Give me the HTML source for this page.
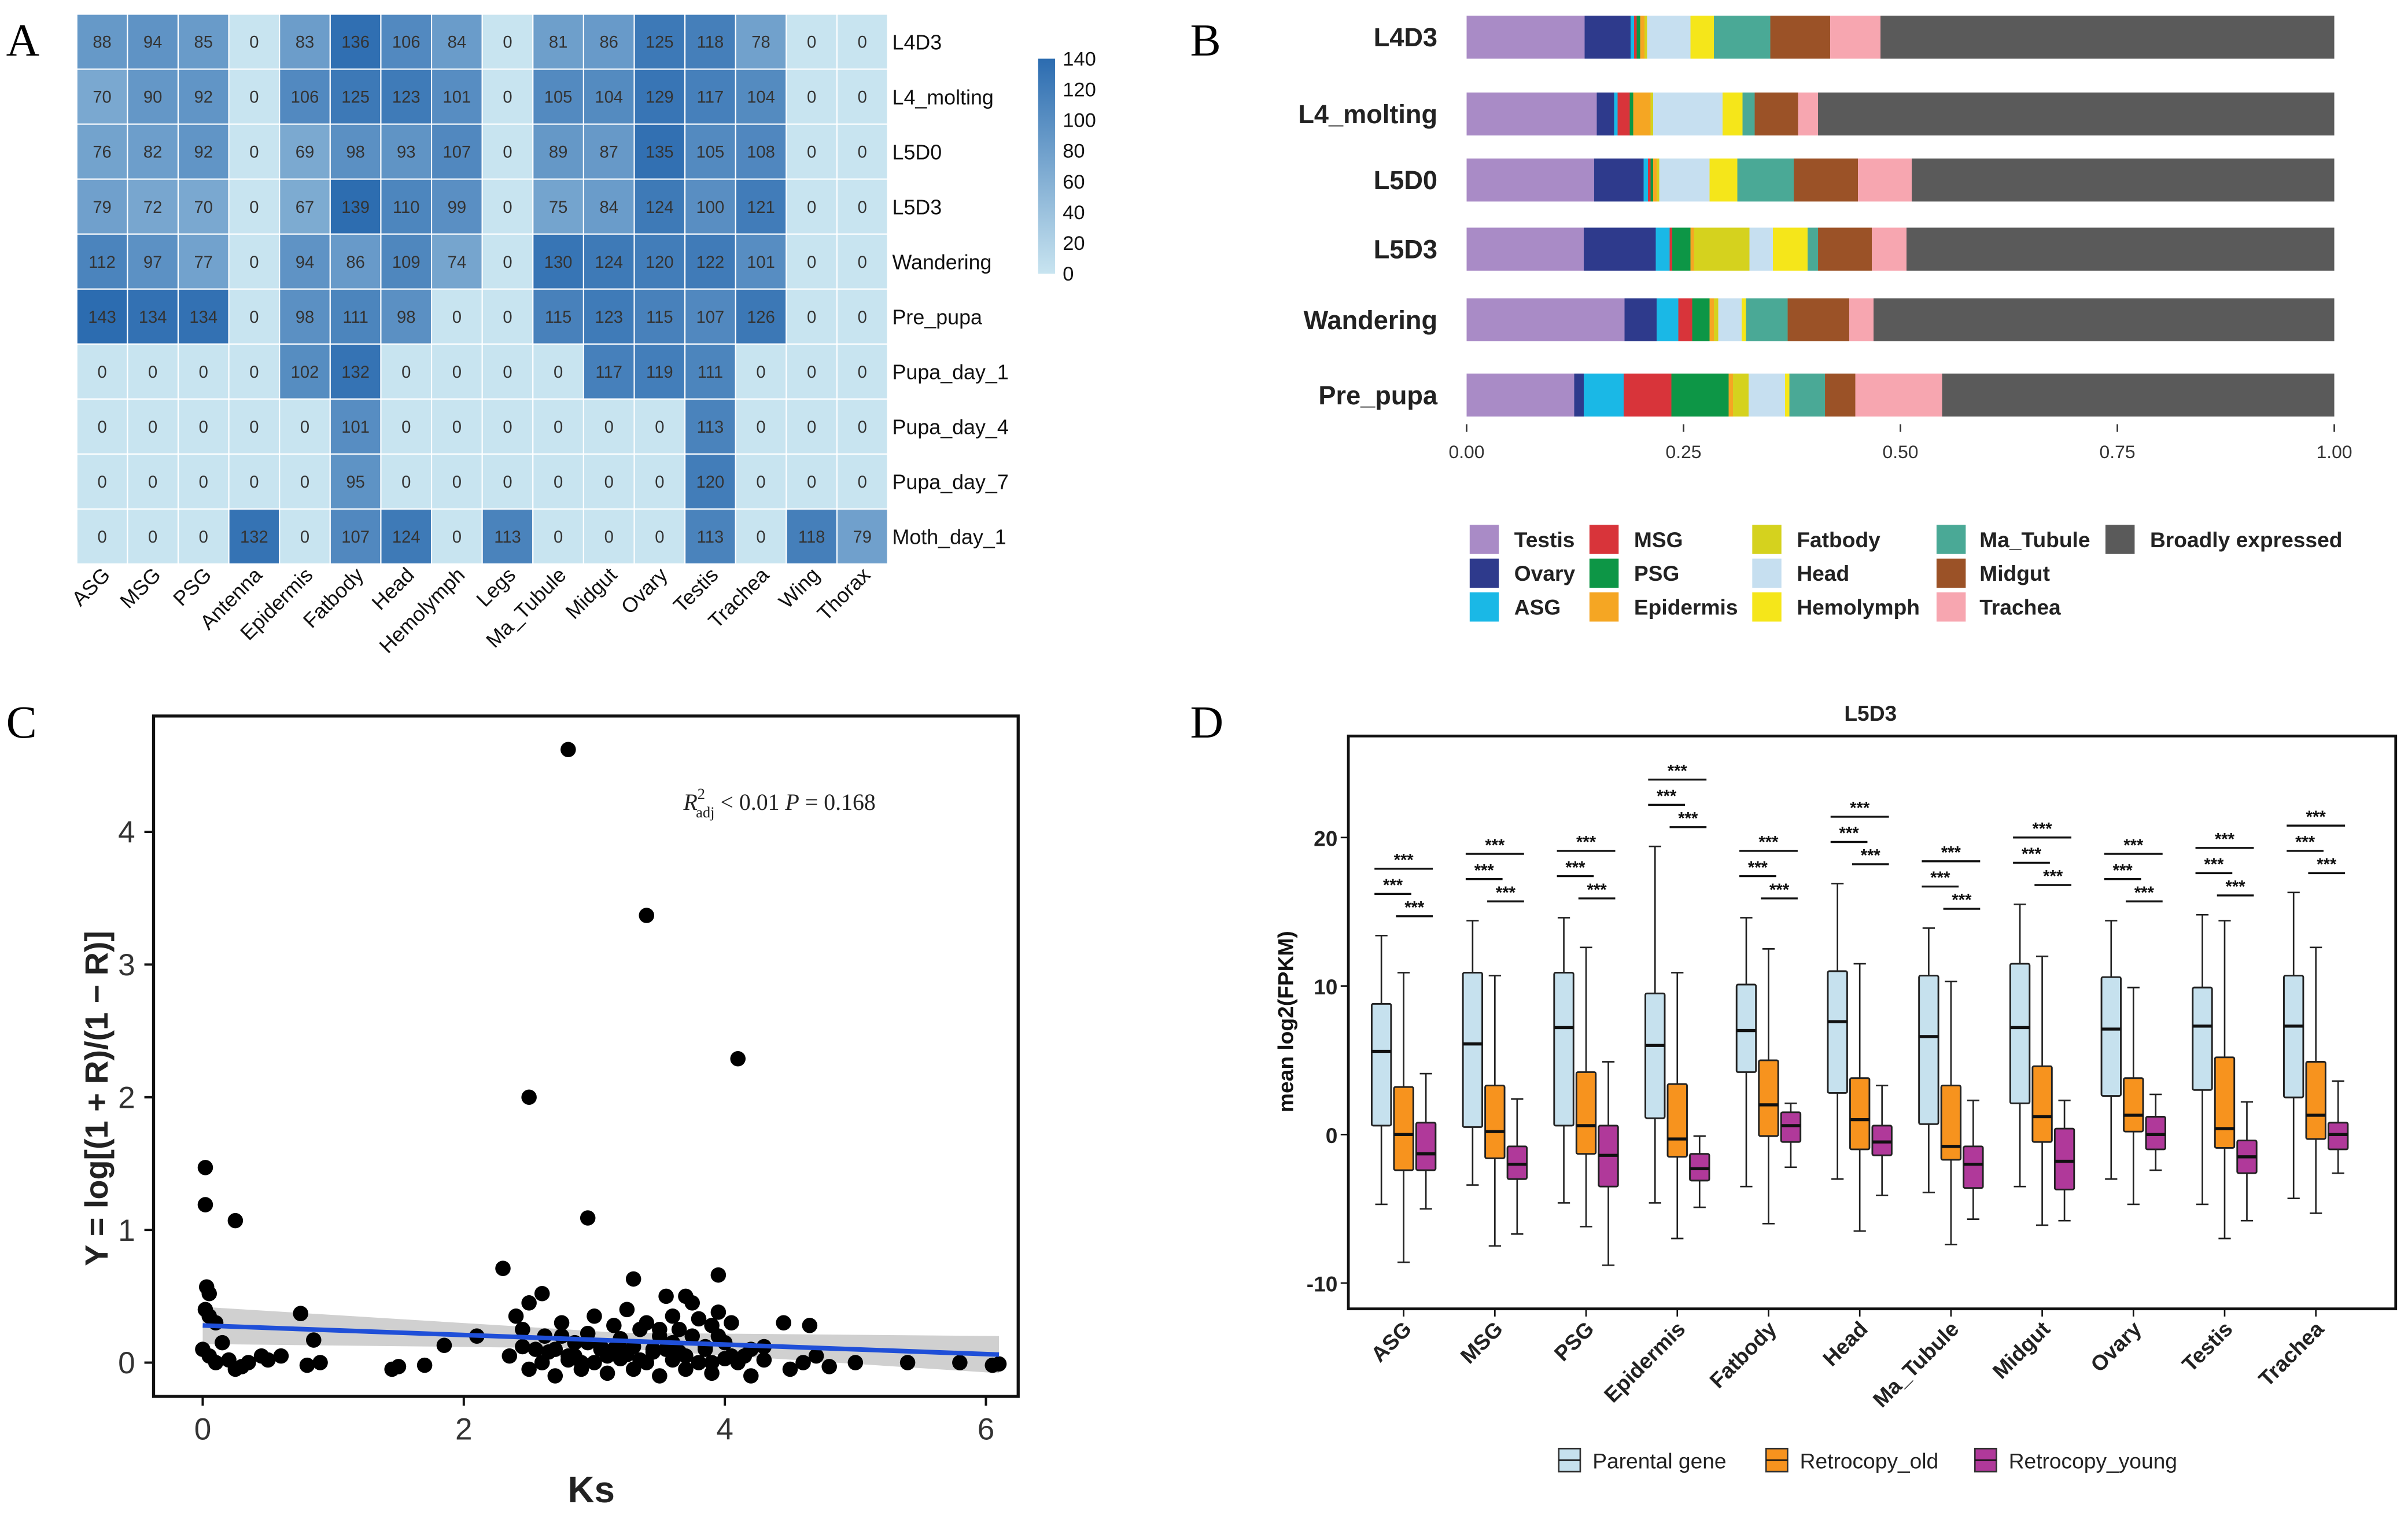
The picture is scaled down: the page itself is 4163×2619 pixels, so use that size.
<!DOCTYPE html>
<html><head><meta charset="utf-8"><style>
html,body{margin:0;padding:0;background:#fff;}
svg{display:block;font-family:"Liberation Sans",sans-serif;}
</style></head><body>
<svg id="fig" width="4163" height="2619" viewBox="0 0 1568 986" xmlns="http://www.w3.org/2000/svg">
<rect x="0" y="0" width="1568" height="986" fill="#fff"/>
<g font-family="Liberation Serif,serif" font-size="30">
<text x="4" y="36">A</text>
<text x="775" y="36">B</text>
<text x="4" y="480">C</text>
<text x="775" y="480">D</text>
</g>
<g id="pa"></g>
<g id="pb"></g>
<g id="pc"></g>
<g id="pd"></g>
</svg>
<script>
// ---------- Panel A data ----------
const hmCols = ["ASG","MSG","PSG","Antenna","Epidermis","Fatbody","Head","Hemolymph","Legs","Ma_Tubule","Midgut","Ovary","Testis","Trachea","Wing","Thorax"];
const hmRows = ["L4D3","L4_molting","L5D0","L5D3","Wandering","Pre_pupa","Pupa_day_1","Pupa_day_4","Pupa_day_7","Moth_day_1"];
const hmValues = [
[88,94,85,0,83,136,106,84,0,81,86,125,118,78,0,0],
[70,90,92,0,106,125,123,101,0,105,104,129,117,104,0,0],
[76,82,92,0,69,98,93,107,0,89,87,135,105,108,0,0],
[79,72,70,0,67,139,110,99,0,75,84,124,100,121,0,0],
[112,97,77,0,94,86,109,74,0,130,124,120,122,101,0,0],
[143,134,134,0,98,111,98,0,0,115,123,115,107,126,0,0],
[0,0,0,0,102,132,0,0,0,0,117,119,111,0,0,0],
[0,0,0,0,0,101,0,0,0,0,0,0,113,0,0,0],
[0,0,0,0,0,95,0,0,0,0,0,0,120,0,0,0],
[0,0,0,132,0,107,124,0,113,0,0,0,113,0,118,79]];
const hmTicks = [0,20,40,60,80,100,120,140];
// ---------- Panel B data ----------
const sbStages = ["L4D3","L4_molting","L5D0","L5D3","Wandering","Pre_pupa"];
const sbTissues = ["Testis","Ovary","ASG","MSG","PSG","Epidermis","Fatbody","Head","Hemolymph","Ma_Tubule","Midgut","Trachea","Broadly expressed"];
const sbTestis = [0.136,0.150,0.147,0.135,0.182,0.124];
const sbOvary = [0.053,0.020,0.057,0.083,0.037,0.011];
const sbASG = [0.004,0.004,0.005,0.016,0.025,0.046];
const sbMSG = [0.003,0.014,0.003,0.003,0.016,0.055];
const sbPSG = [0.004,0.004,0.003,0.021,0.020,0.066];
const sbEpidermis = [0.005,0.020,0.004,0.004,0.005,0.005];
const sbFatbody = [0.003,0.003,0.003,0.064,0.005,0.018];
const sbHead = [0.050,0.080,0.058,0.027,0.027,0.042];
const sbHemolymph = [0.027,0.023,0.032,0.040,0.005,0.005];
const sbMaTubule = [0.065,0.014,0.065,0.012,0.048,0.041];
const sbMidgut = [0.069,0.050,0.074,0.062,0.071,0.035];
const sbTrachea = [0.058,0.023,0.062,0.040,0.028,0.100];
const sbTicks = [0,0.25,0.5,0.75,1];
// ---------- Panel C data ----------
const scKs = [0.02,0.02,0.25,0.03,0.05,0.02,0.05,0.1,0.0,0.05,0.1,0.2,0.3,0.35,0.45,0.5,0.25,0.15,0.6,0.75,0.85,0.8,0.9,1.45,1.5,1.7,1.85,2.1,2.3,2.5,2.8,3.4,4.1,2.95,3.3,3.95,3.7,2.6,5.4,6.1,6.05,5.8,4.65,4.3,4.45,4.5,4.6,4.7,4.8,5.0,
2.35,2.4,2.45,2.5,2.55,2.6,2.62,2.7,2.75,2.8,2.85,2.9,2.95,3.0,3.05,3.1,3.15,3.2,3.25,3.3,3.35,3.4,3.45,3.5,3.55,3.6,3.65,3.7,3.75,3.8,3.85,3.9,3.95,4.0,4.05,4.15,4.2,
2.5,2.6,2.7,2.8,2.9,3.0,3.1,3.2,3.3,3.4,3.5,3.6,3.7,3.8,3.9,4.0,4.1,4.2,4.3,
2.45,2.65,2.85,3.05,3.25,3.45,3.65,3.85,4.05,2.75,3.15,3.55,3.95,3.35,3.75,2.95,3.5,3.2,3.6,3.9];
const scY = [1.47,1.19,1.07,0.57,0.52,0.4,0.35,0.3,0.1,0.05,0.0,0.02,-0.03,0.0,0.05,0.02,-0.05,0.15,0.05,0.37,0.17,-0.02,0.0,-0.05,-0.03,-0.02,0.13,0.2,0.71,2.0,4.62,3.37,2.29,1.09,0.63,0.66,0.5,0.52,0.0,-0.01,-0.02,0.0,0.28,0.12,0.3,-0.05,0.0,0.05,-0.03,0.0,
0.05,0.35,0.25,0.45,0.1,0.0,0.2,0.1,0.3,0.05,0.15,0.0,0.22,0.35,0.1,0.05,0.28,0.18,0.4,0.12,0.02,0.3,0.08,0.2,0.5,0.15,0.25,0.05,0.45,0.33,0.1,0.0,0.38,0.15,0.3,0.05,0.1,
-0.05,0.0,-0.1,0.02,-0.05,0.0,-0.08,0.03,-0.05,0.0,-0.1,0.02,-0.05,0.0,-0.08,0.03,0.0,-0.1,0.02,
0.12,0.08,0.05,0.12,0.06,0.1,0.08,0.12,0.05,0.2,0.1,0.1,0.2,0.25,0.2,0.15,0.25,0.1,0.35,0.28];
const scXTicks = [0,2,4,6];
const scYTicks = [0,1,2,3,4];
// ---------- Panel D data ----------
const bxGroups = ["ASG","MSG","PSG","Epidermis","Fatbody","Head","Ma_Tubule","Midgut","Ovary","Testis","Trachea"];
// [wlo,q1,med,q3,whi]
const bxParental = [[-4.7,0.6,5.6,8.8,13.4],[-3.4,0.5,6.1,10.9,14.4],[-4.6,0.6,7.2,10.9,14.6],[-4.6,1.1,6.0,9.5,19.4],[-3.5,4.2,7.0,10.1,14.6],[-3.0,2.8,7.6,11.0,16.9],[-3.9,0.7,6.6,10.7,13.9],[-3.5,2.1,7.2,11.5,15.5],[-3.0,2.6,7.1,10.6,14.4],[-4.7,3.0,7.3,9.9,14.8],[-4.3,2.5,7.3,10.7,16.3]];
const bxOld = [[-8.6,-2.4,0,3.2,10.9],[-7.5,-1.6,0.2,3.3,10.7],[-6.2,-1.3,0.6,4.2,12.6],[-7.0,-1.5,-0.3,3.4,10.9],[-6.0,-0.1,2.0,5.0,12.5],[-6.5,-1.0,1.0,3.8,11.5],[-7.4,-1.7,-0.8,3.3,10.3],[-6.1,-0.5,1.2,4.6,12.0],[-4.7,0.2,1.3,3.8,9.9],[-7.0,-0.9,0.4,5.2,14.4],[-5.3,-0.3,1.3,4.9,12.6]];
const bxYoung = [[-5.0,-2.4,-1.3,0.8,4.1],[-6.7,-3.0,-2.0,-0.8,2.4],[-8.8,-3.5,-1.4,0.6,4.9],[-4.9,-3.1,-2.3,-1.3,-0.1],[-2.2,-0.5,0.6,1.5,2.1],[-4.1,-1.4,-0.5,0.6,3.3],[-5.7,-3.6,-2.0,-0.8,2.3],[-5.8,-3.7,-1.8,0.4,2.3],[-2.4,-1.0,0,1.2,2.7],[-5.8,-2.6,-1.5,-0.4,2.2],[-2.6,-1.0,0,0.8,3.6]];
const bxYTicks = [-10,0,10,20];

const NS="http://www.w3.org/2000/svg";
function mk(parent,tag,attrs,text){const e=document.createElementNS(NS,tag);for(const k in attrs)e.setAttribute(k,attrs[k]);if(text!==undefined)e.textContent=text;parent.appendChild(e);return e;}

// ===== Panel A =====
(function(){
const g=document.getElementById('pa');
const x0=50,y0=9,cw=33,rh=35.8;
const c0=[200,228,240],c1=[44,108,176];
function col(v){const t=Math.max(0,Math.min(1,v/140));return `rgb(${c0.map((c,i)=>Math.round(c+(c1[i]-c)*t)).join(',')})`;}
hmRows.forEach((r,ri)=>{
 hmCols.forEach((c,ci)=>{
  const v=hmValues[ri][ci];
  const cell=mk(g,'rect',{x:x0+ci*cw,y:y0+ri*rh,width:cw,height:rh,fill:col(v),stroke:'#fff','stroke-width':0.8});
  
  
  const t=mk(g,'text',{x:x0+ci*cw+cw/2,y:y0+ri*rh+rh/2+4,'text-anchor':'middle','font-size':11,fill:'#333'},v);
  
  
 });
 const rl=mk(g,'text',{x:x0+16*cw+3,y:y0+ri*rh+rh/2+5,'font-size':13.5,fill:'#111'},r);
 
 
});
hmCols.forEach((c,ci)=>{
 const cx=x0+ci*cw+cw/2+6, cy=y0+10*rh+8;
 const t=mk(g,'text',{x:cx,y:cy,'text-anchor':'end','font-size':13.5,fill:'#111',transform:`rotate(-45 ${cx} ${cy})`},c);
 
 
});
const cbx=676,cbTop=38,cbBot=178;
const defs=mk(document.getElementById('fig'),'defs',{});
const lg=mk(defs,'linearGradient',{id:'cbg',x1:0,y1:1,x2:0,y2:0});
mk(lg,'stop',{offset:'0',"stop-color":col(0)});mk(lg,'stop',{offset:'1',"stop-color":col(140)});
const cb=mk(g,'rect',{x:cbx,y:cbTop,width:11,height:cbBot-cbTop,fill:'url(#cbg)'});


hmTicks.forEach(v=>{
 const y=cbBot-(v/140)*(cbBot-cbTop);
 const t=mk(g,'text',{x:692,y:y+4.5,'font-size':13,fill:'#111'},v);
 
 
});
})();

// ===== Panel B =====
(function(){
const g=document.getElementById('pb');
const colors=["#a98bc6","#2e3a8c","#1ab8e6","#d8343a","#0d9646","#f5a623","#d5d21e","#c6dff0","#f5e61a","#4aa996","#9b5227","#f7a6b0","#5a5a5a"];
const series=[sbTestis,sbOvary,sbASG,sbMSG,sbPSG,sbEpidermis,sbFatbody,sbHead,sbHemolymph,sbMaTubule,sbMidgut,sbTrachea];
const x0=955,x1=1520; const X=v=>x0+v*(x1-x0);
const yc=[24,74,117,162,208,257];
sbStages.forEach((s,i)=>{
 let acc=0;const h=28,y=yc[i]-h/2;
 series.forEach((ser,k)=>{
  const w=ser[i];
  const r=mk(g,'rect',{x:X(acc),y:y,width:X(acc+w)-X(acc),height:h,fill:colors[k]});
  
  
  acc+=w;
 });
 const r=mk(g,'rect',{x:X(acc),y:y,width:X(1)-X(acc),height:h,fill:colors[12]});
 
 
 const t=mk(g,'text',{x:936,y:yc[i]+6,'text-anchor':'end','font-size':17,'font-weight':'bold',fill:'#222'},s);
 
 
});
sbTicks.forEach(v=>{
 mk(g,'line',{x1:X(v),x2:X(v),y1:276,y2:281,stroke:'#333','stroke-width':1});
 const t=mk(g,'text',{x:X(v),y:298,'text-anchor':'middle','font-size':12,fill:'#333'},v.toFixed(2));
 
 
});
const cols=[[957,986],[1035,1064],[1141,1170],[1261,1289],[1371,1400]];
const rowsY=[351,373,395];
sbTissues.forEach((tn,i)=>{
 const c=Math.floor(i/3), r=i%3;
 const [sx,tx]=cols[c];
 const sw=mk(g,'rect',{x:sx,y:rowsY[r]-9.5,width:19,height:19,fill:colors[i]});
 
 
 const t=mk(g,'text',{x:tx,y:rowsY[r]+5,'font-size':14,'font-weight':'bold',fill:'#222'},tn);
 
 
});
})();

// ===== Panel C =====
(function(){
const g=document.getElementById('pc');
const X=v=>132+v*85, Y=v=>887-v*86.4;
const fr=mk(g,'rect',{x:100,y:466,width:563,height:443,fill:'none',stroke:'#111','stroke-width':2});


const a=0.28,b=-0.036;
const band=mk(g,'polygon',{points:`${X(0)},${Y(a+0.14)} ${X(3.2)},${Y(a+b*3.2+0.06)} ${X(6.1)},${Y(a+b*6.1+0.14)} ${X(6.1)},${Y(a+b*6.1-0.14)} ${X(3.2)},${Y(a+b*3.2-0.06)} ${X(0)},${Y(a-0.14)}`,fill:'#c8c8c8',opacity:0.85});


scKs.forEach((k,i)=>{
 const c=mk(g,'circle',{cx:X(k),cy:Y(scY[i]),r:5,fill:'#000'});
 
 
});
const ln=mk(g,'line',{x1:X(0),y1:Y(a),x2:X(6.1),y2:Y(a+b*6.1),stroke:'#1f4fd8','stroke-width':3});


scXTicks.forEach(v=>{
 mk(g,'line',{x1:X(v),x2:X(v),y1:909,y2:915,stroke:'#111','stroke-width':1.5});
 const t=mk(g,'text',{x:X(v),y:937,'text-anchor':'middle','font-size':20,fill:'#333'},v);
 
 
});
scYTicks.forEach(v=>{
 mk(g,'line',{x1:94,x2:100,y1:Y(v),y2:Y(v),stroke:'#111','stroke-width':1.5});
 const t=mk(g,'text',{x:88,y:Y(v)+7,'text-anchor':'end','font-size':20,fill:'#333'},v);
 
 
});
const xt=mk(g,'text',{x:385,y:978,'text-anchor':'middle','font-size':24,'font-weight':'bold',fill:'#222'},'Ks');


const yt=mk(g,'text',{x:0,y:0,'text-anchor':'middle','font-size':21,'font-weight':'bold',fill:'#222',transform:'translate(70 715) rotate(-90)'},'Y = log[(1 + R)/(1 − R)]');


const an=mk(g,'text',{x:445,y:527,'font-size':15,'font-family':'Liberation Serif,serif',fill:'#222'});


an.innerHTML='<tspan font-style="italic">R</tspan><tspan font-size="10" dy="-7">2</tspan><tspan font-size="10" dx="-6" dy="12">adj</tspan><tspan dy="-5"> &lt; 0.01  </tspan><tspan font-style="italic">P</tspan><tspan> = 0.168</tspan>';
})();

// ===== Panel D =====
(function(){
const g=document.getElementById('pd');
const Y=v=>738.5-v*9.67; const gx=i=>914+i*59.4;
const fr=mk(g,'rect',{x:878,y:479,width:682,height:373,fill:'none',stroke:'#111','stroke-width':1.8});


const tt=mk(g,'text',{x:1218,y:469,'text-anchor':'middle','font-size':14,'font-weight':'bold',fill:'#222'},'L5D3');


bxYTicks.forEach(v=>{
 mk(g,'line',{x1:873,x2:878,y1:Y(v),y2:Y(v),stroke:'#111'});
 const t=mk(g,'text',{x:871,y:Y(v)+5.5,'text-anchor':'end','font-size':14,'font-weight':'bold',fill:'#222'},v);
 
 
});
const yt=mk(g,'text',{x:0,y:0,'text-anchor':'middle','font-size':14,'font-weight':'bold',fill:'#111',transform:'translate(842 665) rotate(-90)'},'mean log2(FPKM)');


const fills=['#c6e1ee','#f7931e','#b0399a'];
const sets=[bxParental,bxOld,bxYoung];
bxGroups.forEach((gn,i)=>{
 const cx=gx(i);
 sets.forEach((s,k)=>{
  const [lo,q1,md,q3,hi]=s[i]; const bx=cx+(k-1)*14.5;
  mk(g,'line',{x1:bx,x2:bx,y1:Y(hi),y2:Y(lo),stroke:'#222','stroke-width':1});
  mk(g,'line',{x1:bx-4,x2:bx+4,y1:Y(hi),y2:Y(hi),stroke:'#222'});
  mk(g,'line',{x1:bx-4,x2:bx+4,y1:Y(lo),y2:Y(lo),stroke:'#222'});
  const r=mk(g,'rect',{x:bx-6.3,y:Y(q3),width:12.6,height:Y(q1)-Y(q3),fill:fills[k],stroke:'#222','stroke-width':1.1,rx:1});
  
  
  mk(g,'line',{x1:bx-6.3,x2:bx+6.3,y1:Y(md),y2:Y(md),stroke:'#111','stroke-width':2});
 });
 const top=Math.max(bxParental[i][4],bxOld[i][4],bxYoung[i][4])+4.5;
 const br=[[top,cx-14,cx+14],[top-1.7,cx-14,cx],[top-3.2,cx,cx+14]];
 br.forEach(([v,a,b])=>{
  mk(g,'line',{x1:a-5,x2:b+5,y1:Y(v),y2:Y(v),stroke:'#111','stroke-width':1.3});
  mk(g,'text',{x:(a+b)/2,y:Y(v)-2,'text-anchor':'middle','font-size':11,'font-weight':'bold',fill:'#111'},'***');
 });
 mk(g,'line',{x1:cx,x2:cx,y1:852,y2:857,stroke:'#111'});
 const tx=cx+6, ty=866;
 const t=mk(g,'text',{x:tx,y:ty,'text-anchor':'end','font-size':14,'font-weight':'bold',fill:'#222',transform:`rotate(-45 ${tx} ${ty})`},gn);
 
 
});
const leg=[['Parental gene',1015],['Retrocopy_old',1150],['Retrocopy_young',1286]];
leg.forEach(([n,x],k)=>{
 const r=mk(g,'rect',{x:x,y:943,width:14,height:15,fill:fills[k],stroke:'#333'});
 
 
 mk(g,'line',{x1:x,x2:x+14,y1:950.5,y2:950.5,stroke:'#111'});
 const t=mk(g,'text',{x:x+22,y:956,'font-size':14,fill:'#222'},n);
 
 
});
})();
</script>
</body></html>
